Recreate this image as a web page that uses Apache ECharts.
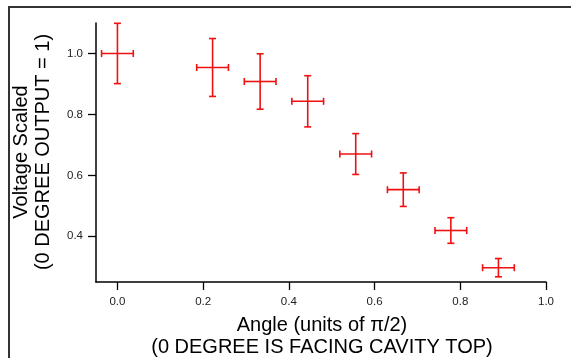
<!DOCTYPE html>
<html>
<head>
<meta charset="utf-8">
<script src="https://cdn.jsdelivr.net/npm/echarts@6/dist/echarts.min.js"></script>
<style>
html,body{margin:0;padding:0;background:#fff;}
#c{width:571px;height:358px;}
</style>
</head>
<body>
<div id="c"></div>
<script>
// Data
var angles = [0.0, 0.222, 0.333, 0.444, 0.556, 0.667, 0.778, 0.889];
var voltages = [1.0, 0.954, 0.908, 0.843, 0.670, 0.553, 0.419, 0.297];
var angleErr = [0.037, 0.037, 0.037, 0.037, 0.037, 0.037, 0.037, 0.037];
var voltageErr = [0.099, 0.095, 0.091, 0.084, 0.067, 0.055, 0.042, 0.030];
var xTicks = [0.0, 0.2, 0.4, 0.6, 0.8, 1.0];
var yTicks = [0.4, 0.6, 0.8, 1.0];

var data = angles.map(function (a, i) {
  return [a, voltages[i], angleErr[i], voltageErr[i]];
});

var chart = echarts.init(document.getElementById('c'), null, {renderer: 'canvas'});
var FONT = '"Liberation Sans", Arial, sans-serif';
var RED = '#f01010';
var CAP = 3.5;

function renderItem(params, api) {
  var x = api.value(0), y = api.value(1), ex = api.value(2), ey = api.value(3);
  var c = api.coord([x, y]);
  var l = api.coord([x - ex, y]);
  var r = api.coord([x + ex, y]);
  var t = api.coord([x, y + ey]);
  var b = api.coord([x, y - ey]);
  var style = {stroke: RED, lineWidth: 1.6, fill: null};
  function line(x1, y1, x2, y2) {
    return {type: 'line', shape: {x1: x1, y1: y1, x2: x2, y2: y2}, style: style};
  }
  return {
    type: 'group',
    children: [
      line(l[0], c[1], r[0], c[1]),
      line(c[0], t[1], c[0], b[1]),
      line(l[0], c[1] - CAP, l[0], c[1] + CAP),
      line(r[0], c[1] - CAP, r[0], c[1] + CAP),
      line(c[0] - CAP, t[1], c[0] + CAP, t[1]),
      line(c[0] - CAP, b[1], c[0] + CAP, b[1])
    ]
  };
}

var option = {
  animation: false,
  backgroundColor: '#fff',
  grid: {left: 96, right: 25, top: 23, bottom: 76},
  xAxis: {
    type: 'value', min: -0.05, max: 1.0,
    splitLine: {show: false},
    axisLine: {show: true, onZero: false, lineStyle: {color: '#000', width: 1.5}},
    axisTick: {show: true, length: 8, lineStyle: {color: '#000', width: 1.3}, customValues: xTicks},
    axisLabel: {
      customValues: xTicks, margin: 14, color: '#222', fontSize: 11.5, fontFamily: FONT,
      formatter: function (v) { return v.toFixed(1); }
    }
  },
  yAxis: {
    type: 'value', min: 0.25, max: 1.1,
    splitLine: {show: false},
    axisLine: {show: true, onZero: false, lineStyle: {color: '#000', width: 1.5}},
    axisTick: {show: true, length: 8, lineStyle: {color: '#000', width: 1.3}, customValues: yTicks},
    axisLabel: {
      customValues: yTicks, margin: 13, color: '#222', fontSize: 11.5, fontFamily: FONT,
      formatter: function (v) { return v.toFixed(1); }
    }
  },
  graphic: [
    {type: 'rect', shape: {x: 9, y: 7, width: 800, height: 600}, style: {fill: null, stroke: '#333', lineWidth: 2}, silent: true},
    {type: 'text', x: 32, y: 152, rotation: Math.PI / 2,
      style: {text: 'Voltage Scaled\n(0 DEGREE OUTPUT = 1)', align: 'center', verticalAlign: 'middle',
        font: '20px ' + FONT, lineHeight: 22, fill: '#000'}},
    {type: 'text', x: 322, y: 336,
      style: {text: 'Angle (units of \u03c0/2)\n(0 DEGREE IS FACING CAVITY TOP)', align: 'center', verticalAlign: 'middle',
        font: '20px ' + FONT, lineHeight: 22, fill: '#000'}}
  ],
  series: [{
    type: 'custom',
    renderItem: renderItem,
    encode: {x: 0, y: 1},
    data: data,
    clip: false
  }]
};
chart.setOption(option);
</script>
</body>
</html>
